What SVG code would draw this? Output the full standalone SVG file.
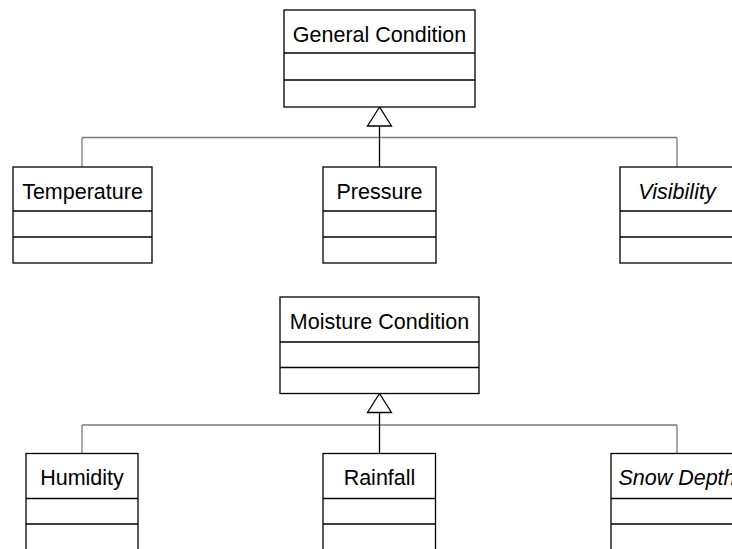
<svg xmlns="http://www.w3.org/2000/svg" width="732" height="549" viewBox="0 0 732 549">
  <style>
    .box { fill: #ffffff; stroke: #000000; stroke-width: 1.3; }
    .div { stroke: #000000; stroke-width: 1.3; }
    .name { font-family: "Liberation Sans", Arial, sans-serif; font-size: 21.5px; fill: #000000; text-anchor: middle; }
    .abstract { font-style: italic; }
    .bus { fill: none; stroke: #7a7a7a; stroke-width: 1.3; }
    .stem { fill: none; stroke: #000000; stroke-width: 1.3; }
    .head { fill: #ffffff; stroke: #000000; stroke-width: 1.3; }
  </style>

  <!-- generalisation connectors -->
  <g id="connectors">
    <!-- upper hierarchy -->
    <path class="bus" d="M82,137.5 H677 M82,137.5 V167 M677,137.5 V167"/>
    <path class="stem" d="M379.5,126 V167"/>
    <polygon class="head" points="379.5,107 367.5,126 391.5,126"/>
    <!-- lower hierarchy -->
    <path class="bus" d="M82,425 H677 M82,425 V453.5 M677,425 V453.5"/>
    <path class="stem" d="M379.5,412.5 V453.5"/>
    <polygon class="head" points="379.5,393.5 367.5,412.5 391.5,412.5"/>
  </g>

  <!-- upper classes -->
  <g id="general-condition">
    <rect class="box" x="284" y="10" width="191" height="97"/>
    <line class="div" x1="284" y1="53" x2="475" y2="53"/>
    <line class="div" x1="284" y1="80" x2="475" y2="80"/>
    <text class="name" x="379.5" y="41.5">General Condition</text>
  </g>
  <g id="temperature">
    <rect class="box" x="13" y="167" width="139" height="96"/>
    <line class="div" x1="13" y1="211" x2="152" y2="211"/>
    <line class="div" x1="13" y1="237" x2="152" y2="237"/>
    <text class="name" x="82.5" y="198.5">Temperature</text>
  </g>
  <g id="pressure">
    <rect class="box" x="323" y="167" width="113" height="96"/>
    <line class="div" x1="323" y1="211" x2="436" y2="211"/>
    <line class="div" x1="323" y1="237" x2="436" y2="237"/>
    <text class="name" x="379.5" y="198.5">Pressure</text>
  </g>
  <g id="visibility">
    <rect class="box" x="620" y="167" width="114" height="96"/>
    <line class="div" x1="620" y1="211" x2="734" y2="211"/>
    <line class="div" x1="620" y1="237" x2="734" y2="237"/>
    <text class="name abstract" x="677" y="198.5">Visibility</text>
  </g>

  <!-- lower classes -->
  <g id="moisture-condition">
    <rect class="box" x="280" y="297" width="199" height="96.5"/>
    <line class="div" x1="280" y1="342" x2="479" y2="342"/>
    <line class="div" x1="280" y1="367.5" x2="479" y2="367.5"/>
    <text class="name" x="379.5" y="329">Moisture Condition</text>
  </g>
  <g id="humidity">
    <rect class="box" x="26" y="453.5" width="112" height="110"/>
    <line class="div" x1="26" y1="498.5" x2="138" y2="498.5"/>
    <line class="div" x1="26" y1="524" x2="138" y2="524"/>
    <text class="name" x="82" y="485">Humidity</text>
  </g>
  <g id="rainfall">
    <rect class="box" x="323" y="453.5" width="112.5" height="110"/>
    <line class="div" x1="323" y1="498.5" x2="435.5" y2="498.5"/>
    <line class="div" x1="323" y1="524" x2="435.5" y2="524"/>
    <text class="name" x="379.5" y="485">Rainfall</text>
  </g>
  <g id="snow-depth">
    <rect class="box" x="611" y="453.5" width="132" height="110"/>
    <line class="div" x1="611" y1="498.5" x2="743" y2="498.5"/>
    <line class="div" x1="611" y1="524" x2="743" y2="524"/>
    <text class="name abstract" x="677" y="485">Snow Depth</text>
  </g>
</svg>
